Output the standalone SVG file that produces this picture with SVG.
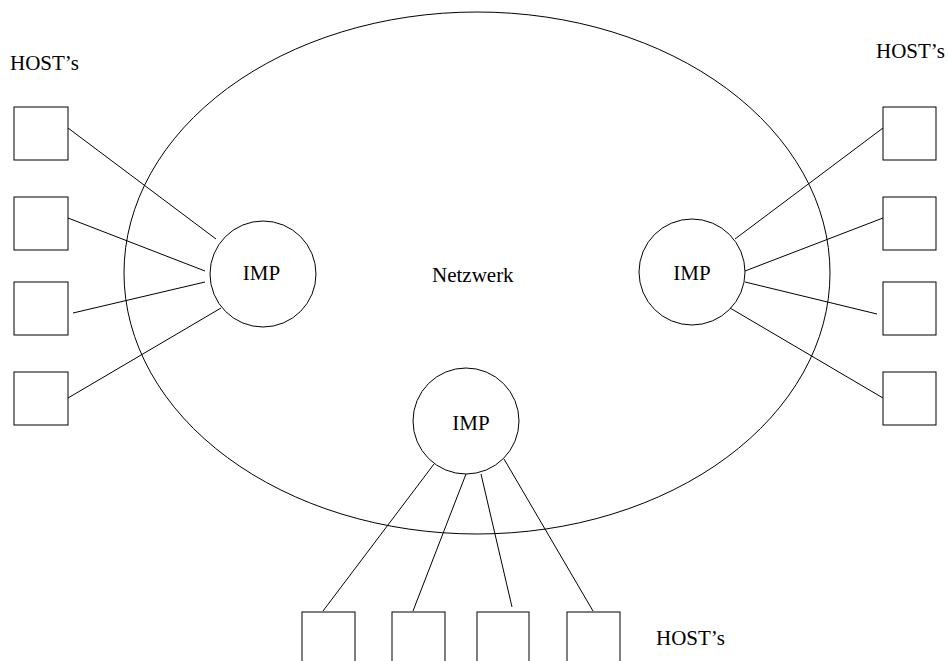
<svg xmlns="http://www.w3.org/2000/svg" width="948" height="661" viewBox="0 0 948 661">
  <style>
    .shape { fill: none; stroke: #000; stroke-width: 1; }
    .host { fill: none; stroke: #000; stroke-width: 1; }
    .link { stroke: #000; stroke-width: 1; fill: none; }
    .lbl { font-family: "Liberation Serif", "Times New Roman", serif; font-size: 21px; fill: #000; }
  </style>
  <rect width="948" height="661" fill="#fff"/>

  <!-- network cloud -->
  <g id="netzwerk">
    <ellipse class="shape" cx="477" cy="273" rx="353" ry="261"/>
    <text class="lbl" x="432" y="282">Netzwerk</text>
  </g>

  <!-- connectors between IMPs and hosts -->
  <g id="connectors">
    <line class="link" x1="68" y1="128" x2="216" y2="239"/>
    <line class="link" x1="68" y1="218" x2="205" y2="271"/>
    <line class="link" x1="73" y1="313" x2="205" y2="282"/>
    <line class="link" x1="68" y1="398" x2="221" y2="308"/>

    <line class="link" x1="883" y1="128" x2="735" y2="239"/>
    <line class="link" x1="883" y1="218" x2="745" y2="271"/>
    <line class="link" x1="877" y1="314" x2="745" y2="282"/>
    <line class="link" x1="883" y1="398" x2="730" y2="308"/>

    <line class="link" x1="434" y1="464" x2="323" y2="611"/>
    <line class="link" x1="466" y1="474" x2="413" y2="611"/>
    <line class="link" x1="481" y1="474" x2="512" y2="607"/>
    <line class="link" x1="504" y1="459" x2="593" y2="611"/>
  </g>

  <!-- IMP nodes -->
  <g id="imp-left">
    <circle class="shape" cx="263" cy="274" r="53"/>
    <text class="lbl" x="261.5" y="280" text-anchor="middle">IMP</text>
  </g>
  <g id="imp-right">
    <circle class="shape" cx="692" cy="272" r="53"/>
    <text class="lbl" x="692" y="280" text-anchor="middle">IMP</text>
  </g>
  <g id="imp-bottom">
    <circle class="shape" cx="466" cy="421" r="53"/>
    <text class="lbl" x="471" y="430" text-anchor="middle">IMP</text>
  </g>

  <!-- left hosts -->
  <g id="hosts-left">
    <text class="lbl" x="10" y="70">HOST’s</text>
    <rect class="host" x="14" y="107" width="54" height="53"/>
    <rect class="host" x="14" y="197" width="54" height="53"/>
    <rect class="host" x="14" y="282" width="54" height="53"/>
    <rect class="host" x="14" y="372" width="54" height="53"/>
  </g>

  <!-- right hosts -->
  <g id="hosts-right">
    <text class="lbl" x="876" y="58">HOST’s</text>
    <rect class="host" x="883" y="107" width="53" height="53"/>
    <rect class="host" x="883" y="197" width="53" height="53"/>
    <rect class="host" x="883" y="282" width="53" height="53"/>
    <rect class="host" x="883" y="372" width="53" height="53"/>
  </g>

  <!-- bottom hosts (cut off by the lower edge) -->
  <g id="hosts-bottom">
    <rect class="host" x="302" y="612" width="53" height="60"/>
    <rect class="host" x="392" y="612" width="53" height="60"/>
    <rect class="host" x="477" y="612" width="52" height="60"/>
    <rect class="host" x="567" y="612" width="53" height="60"/>
    <text class="lbl" x="656" y="645">HOST’s</text>
  </g>
</svg>
